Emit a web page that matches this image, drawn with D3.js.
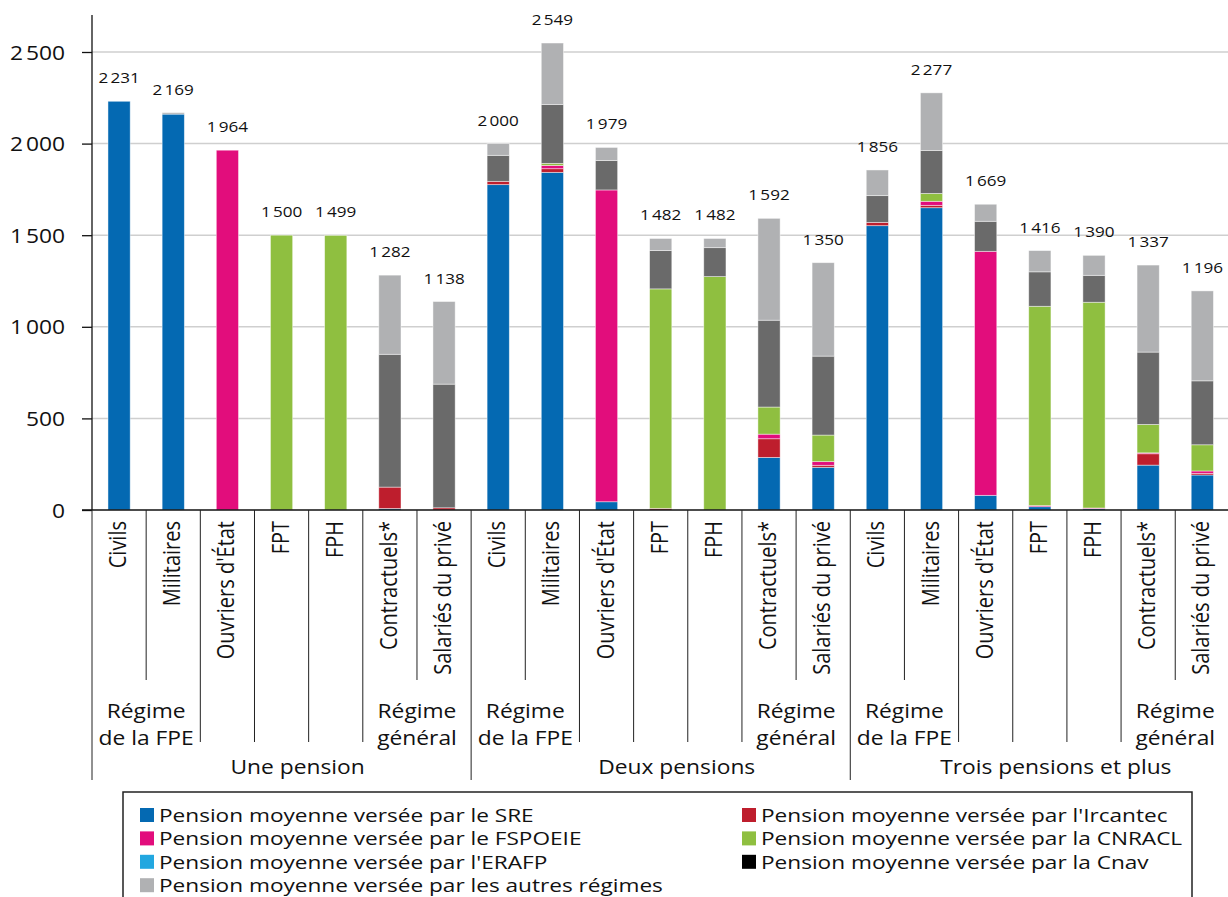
<!DOCTYPE html>
<html>
<head>
<meta charset="utf-8">
<script src="https://cdn.jsdelivr.net/npm/d3@7"></script>
<style>
  body { margin: 0; background: #fff; }
  text { font-family: "Open Sans", "Noto Sans", sans-serif; fill: #111; }
</style>
</head>
<body>
<svg id="chart"></svg>
<script>
const WIDTH = 1228;
const HEIGHT = 897;
const STRETCH = 1.14; // horizontal texts are drawn a bit wider in the original

// data
const groups = ["Une pension", "Deux pensions", "Trois pensions et plus"];
const categories = ["Civils", "Militaires", "Ouvriers d'État", "FPT", "FPH", "Contractuels*", "Salariés du privé"];
const subGroups = [
  { lines: ["Régime", "de la FPE"], first: 0 },
  { lines: ["Régime", "général"], first: 5 }
];
const seriesNames = ["SRE", "Ircantec", "FSPOEIE", "CNRACL", "ERAFP", "Cnav", "Autres"];
const sre      = [2231, 2161, 0, 0, 0, 8, 0,   1776, 1843, 45, 0, 0, 287, 233,   1552, 1650, 80, 18, 7, 245, 191];
const ircantec = [0, 0, 0, 0, 0, 117, 12,      18, 20, 0, 9, 0, 102, 11,         18, 13, 0, 0, 0, 62, 9];
const fspoeie  = [0, 0, 1964, 0, 0, 0, 0,      0, 18, 1702, 0, 0, 25, 20,        0, 22, 1332, 6, 4, 5, 13];
const cnracl   = [0, 0, 0, 1500, 1499, 0, 0,   0, 11, 0, 1198, 1274, 148, 145,   0, 43, 0, 1088, 1123, 155, 143];
const erafp    = [0, 0, 0, 0, 0, 0, 0,         0, 0, 0, 0, 0, 0, 0,              0, 0, 0, 0, 0, 0, 0];
const cnav     = [0, 0, 0, 0, 0, 725, 675,     142, 322, 161, 209, 158, 474, 431, 146, 235, 164, 188, 147, 395, 349];
const autres   = [0, 8, 0, 0, 0, 432, 451,     64, 335, 71, 66, 50, 556, 510,    140, 314, 93, 116, 109, 475, 491];
const totals   = [2231, 2169, 1964, 1500, 1499, 1282, 1138,  2000, 2549, 1979, 1482, 1482, 1592, 1350,  1856, 2277, 1669, 1416, 1390, 1337, 1196];
const yTicks = [0, 500, 1000, 1500, 2000, 2500];

const legendLabels = [
  "Pension moyenne versée par le SRE",
  "Pension moyenne versée par l'Ircantec",
  "Pension moyenne versée par le FSPOEIE",
  "Pension moyenne versée par la CNRACL",
  "Pension moyenne versée par l'ERAFP",
  "Pension moyenne versée par la Cnav",
  "Pension moyenne versée par les autres régimes"
];
const colors = {SRE: "#0469b2", Ircantec: "#be1e2d", FSPOEIE: "#e20d7c", CNRACL: "#8fbf40", ERAFP: "#22a7e0", Cnav: "#6a6a6a", Autres: "#b0b1b3"};
const legendColors = {SRE: "#0469b2", Ircantec: "#be1e2d", FSPOEIE: "#e20d7c", CNRACL: "#8fbf40", ERAFP: "#22a7e0", Cnav: "#000000", Autres: "#b0b1b3"};

const rows = totals.map((t, i) => ({
  idx: i,
  SRE: sre[i], Ircantec: ircantec[i], FSPOEIE: fspoeie[i], CNRACL: cnracl[i],
  ERAFP: erafp[i], Cnav: cnav[i], Autres: autres[i], total: t
}));

const fmt = v => d3.format(",")(v).replace(/,/g, "\u202f");

const svg = d3.select("#chart").attr("width", WIDTH).attr("height", HEIGHT)
  .style("background", "#fff");

// horizontal text, widened like the source
function hText(sel, xx, yy, str, size, anchor, stretch) {
  return sel.append("text")
    .attr("transform", `translate(${xx},${yy}) scale(${stretch || STRETCH},1)`)
    .attr("text-anchor", anchor || "middle")
    .style("font-size", size + "px")
    .text(str);
}

const baseY = 510;
const y = d3.scaleLinear().domain([0, 2500]).range([baseY, 52]);
const x = d3.scaleBand().domain(d3.range(rows.length)).range([92, 1229.4]);
const bw = x.bandwidth();
const barW = bw * 0.41;

// gridlines
svg.append("g").selectAll("line").data(yTicks.filter(d => d > 0)).enter()
  .append("line")
  .attr("x1", 92).attr("x2", WIDTH)
  .attr("y1", d => y(d)).attr("y2", d => y(d))
  .style("stroke", "#cfcfcf").style("stroke-width", 1.5);

// y axis
const yAxis = svg.append("g").attr("transform", "translate(92,0)")
  .call(d3.axisLeft(y).tickValues(yTicks).tickSize(10).tickFormat(fmt));
yAxis.select(".domain").remove();
yAxis.selectAll("line").style("stroke", "#111").style("stroke-width", 1.3);
yAxis.selectAll("text")
  .attr("x", null).attr("dy", null)
  .attr("transform", `translate(-27,7) scale(${STRETCH},1)`)
  .style("font-size", "20px").style("font-family", "'Open Sans', sans-serif").attr("fill", "#111");

// stacked bars
const stack = d3.stack().keys(seriesNames);
const layers = stack(rows);

svg.append("g").selectAll("g").data(layers).enter()
  .append("g")
  .style("fill", d => colors[d.key])
  .selectAll("rect").data(d => d.filter(s => s[1] - s[0] > 0)).enter()
  .append("rect")
  .attr("x", d => x(d.data.idx) + (bw - barW) / 2)
  .attr("width", barW)
  .attr("y", d => y(d[1]))
  .attr("height", d => y(d[0]) - y(d[1]))
  .style("stroke", "#ffffff").style("stroke-opacity", 0.55).style("stroke-width", 0.8);

// value labels
const valG = svg.append("g");
rows.forEach(d => {
  hText(valG, x(d.idx) + bw / 2, y(d3.sum(seriesNames, k => d[k])) - 18, fmt(d.total), 15);
});

// category axis
const axisG = svg.append("g");
axisG.append("line").attr("x1", 82).attr("x2", WIDTH).attr("y1", baseY).attr("y2", baseY)
  .style("stroke", "#111").style("stroke-width", 1.5);
axisG.append("line").attr("x1", 92).attr("x2", 92).attr("y1", 15).attr("y2", baseY)
  .style("stroke", "#111").style("stroke-width", 1.3);

const n = categories.length;
const boundaries = d3.range(rows.length + 1).map(i => {
  const k = i % n;
  let len;
  if (k === 0) len = 780;
  else if (k === 1 || k === 6) len = 680;
  else len = 742;
  return {i, len};
});
axisG.selectAll(".div").data(boundaries).enter()
  .append("line")
  .attr("x1", d => 92 + d.i * bw).attr("x2", d => 92 + d.i * bw)
  .attr("y1", baseY).attr("y2", d => d.len)
  .style("stroke", "#222").style("stroke-width", 1);

// rotated category labels
axisG.selectAll(".cat").data(rows).enter()
  .append("text")
  .attr("transform", d => `translate(${x(d.idx) + bw / 2 + 7},${baseY + 11}) rotate(-90) scale(1,${STRETCH})`)
  .attr("text-anchor", "end")
  .style("font-size", "20px")
  .text(d => categories[d.idx % n]);

// sub group and group labels
groups.forEach((g, gi) => {
  subGroups.forEach(sg => {
    const cx = 92 + (gi * n + sg.first + 1) * bw;
    sg.lines.forEach((ln, li) => {
      hText(axisG, cx, 718 + li * 27, ln, 20);
    });
  });
  hText(axisG, 92 + (gi * n + n / 2) * bw + 16, 774, g, 20);
});

// legend
const legend = svg.append("g");
legend.append("rect")
  .attr("x", 123).attr("y", 792).attr("width", 1069).attr("height", 140)
  .style("fill", "none").style("stroke", "#222").style("stroke-width", 1.5);

const legendCol1 = ["SRE", "FSPOEIE", "ERAFP", "Autres"];
const legendCol2 = ["Ircantec", "CNRACL", "Cnav"];
const legendItems = [];
legendCol1.forEach((k, r) => legendItems.push({k, col: 0, r}));
legendCol2.forEach((k, r) => legendItems.push({k, col: 1, r}));

legendItems.forEach(d => {
  const gx = d.col === 0 ? 140 : 742;
  const gy = 815 + d.r * 23.4;
  legend.append("rect").attr("x", gx).attr("y", gy - 7).attr("width", 14).attr("height", 14)
    .style("fill", legendColors[d.k]);
  hText(legend, gx + 19, gy + 7, legendLabels[seriesNames.indexOf(d.k)], 19, "start", 1.19);
});
</script>
</body>
</html>
